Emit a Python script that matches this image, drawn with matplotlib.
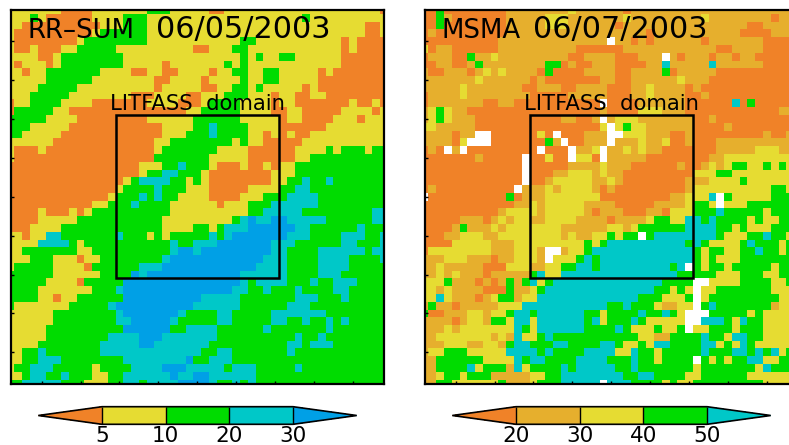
import numpy as np
import matplotlib
matplotlib.use("Agg")
import matplotlib.pyplot as plt
from matplotlib.colors import ListedColormap, BoundaryNorm
from matplotlib.patches import Rectangle

# each row: class letter + last column of that run (49 columns, top row first)
rr_rows = [
    "Y6 O10 Y17 G20 Y25 O27 Y47 O48",
    "Y2 G3 Y4 O10 Y14 G17 Y37 G38 Y48",
    "Y1 O11 Y14 G17 Y45 O47 Y48",
    "Y0 O10 Y11 G17 Y45 O47 Y48",
    "Y0 O8 Y9 G17 Y29 G31 Y42 O43 Y44 O48",
    "Y0 O2 Y3 O6 Y8 G13 Y23 O25 Y28 G30 Y42 O43 Y44 O48",
    "Y3 O5 Y6 G14 Y29 G30 Y31 G32 Y34 G36 Y42 O48",
    "Y0 O1 Y4 O5 Y6 G14 Y19 O20 Y27 G28 Y29 G30 Y42 O48",
    "Y1 O2 Y4 G11 Y15 O17 Y19 O21 Y25 O26 Y28 G30 Y32 G34 Y39 O40 Y41 O48",
    "Y4 G10 Y18 O20 Y24 O25 Y29 G30 Y32 G34 Y39 O48",
    "Y3 G8 Y18 O19 Y24 O26 Y28 G30 Y31 G32 Y37 O38 Y39 O48",
    "Y2 G7 Y15 O18 Y22 O24 Y27 G30 Y33 O34 Y36 O38 Y40 O48",
    "O0 Y2 G6 Y10 O17 Y21 O24 Y25 G29 Y33 O34 Y36 O43 Y44 O46 Y47 O48",
    "O0 G5 Y7 O22 Y24 G29 Y33 O35 Y37 O42 Y46 O47 Y48",
    "G4 Y8 O17 Y23 G29 Y34 O35 Y37 O41 Y44 O45 Y48",
    "G2 Y7 O19 Y23 G25 C26 G30 Y34 O40 Y48",
    "G1 Y6 O19 Y22 G25 C26 G30 Y32 O33 Y34 O35 Y36 O38 Y48",
    "Y5 O18 Y20 G28 Y29 G30 Y32 O37 Y48",
    "Y0 O3 Y4 O18 Y19 G26 Y30 O36 Y40 G41 Y42 G45 Y46 G48",
    "Y0 O18 G25 Y30 O36 Y38 G48",
    "O16 Y19 G21 C22 G25 Y26 O29 Y30 O32 Y33 O34 Y36 G48",
    "O16 Y17 G19 C21 G24 Y25 O33 Y36 G48",
    "O14 Y15 G16 C20 G22 Y23 G24 Y25 O33 Y35 G37 C38 G40 C41 G48",
    "O13 Y14 G18 C19 G22 Y25 O30 Y34 G36 C38 G48",
    "O12 Y13 G16 C17 G18 C19 G21 Y25 O29 Y32 G35 C39 G48",
    "O10 Y12 G15 C16 G20 Y26 O27 Y30 G33 C39 G48",
    "O3 Y4 O7 Y8 O9 Y10 G20 Y30 G32 C37 G46 C48",
    "O3 Y8 G19 Y28 G29 C30 B31 C33 B35 C40 G46 C48",
    "O2 Y6 G19 Y23 G25 Y26 G27 C30 B36 C38 G44 C45 G48",
    "Y1 O2 Y4 C6 G13 C14 G17 Y18 G19 Y20 G25 C26 G27 C28 B35 C38 G42 C45 G47 C48",
    "Y3 C7 G8 Y9 G20 C21 G23 C26 B33 C36 G42 C44 G47 C48",
    "Y1 G8 Y10 G20 C21 B23 C24 B33 C35 G39 C45 G46 C48",
    "Y2 G5 Y8 O9 Y11 G19 C20 B32 C35 G39 C43 G47 C48",
    "Y0 G5 Y9 O10 G16 C19 B31 C35 G39 C43 G48",
    "G5 Y11 G15 B16 C17 B29 C35 G39 C42 G48",
    "G4 Y8 O9 G14 B29 C30 G31 C35 G38 C39 G41 C44 G48",
    "G3 Y10 G13 C14 B28 C30 G32 C33 G36 C37 G41 C43 G48",
    "G3 Y5 O6 Y8 G14 B24 C29 G36 C39 G42 C43 G48",
    "G0 Y7 G12 C13 B23 C29 G35 C38 G48",
    "Y5 G13 C14 B21 C22 G26 C28 G33 C40 G48",
    "Y5 G13 C15 B20 C21 G26 C28 G33 C35 G37 C38 G40 C41 G42 C43 G48",
    "Y4 G14 B20 G22 C26 G32 C33 G40 C41 G48",
    "Y4 G12 C16 B19 C26 G36 C37 G39 C40 G48",
    "Y3 G11 C16 B18 C25 G35 C37 G38 C41 G48",
    "Y1 G3 C4 G11 C24 G26 C28 G35 C36 G48",
    "Y1 G3 C6 G14 C22 B23 G25 C28 G48",
    "Y0 G2 C5 G10 Y11 G15 C19 B22 C27 G28 C31 G36 C37 G48",
    "Y1 G2 C4 G6 C7 G10 Y12 G14 C20 B21 C23 B25 C31 G48",
    "G1 C6 G9 Y12 G14 C16 G17 C21 B25 C26 G28 C29 G30 C31 G48",
]

msma_rows = [
    "O1 G2 O10 A18 Y19 A25 O26 A48",
    "O1 G2 A3 O10 A15 Y18 A25 Y26 A35 Y36 A44 O45 A48",
    "O1 G2 O10 A15 Y18 A24 O25 A41 O43 A48",
    "O0 A1 O10 A28 O29 A40 O44 A48",
    "O9 A23 W24 A26 O27 A28 O29 A35 O36 A43 O47 A48",
    "Y0 O1 A3 O9 A19 O25 A37 O39 A43 O48",
    "O0 A3 O5 G6 A8 Y9 A18 O20 A24 O27 A30 W31 A32 O33 A36 O37 A39 O40 A42 O48",
    "O1 A3 O5 A6 G7 A15 G17 O18 A19 O21 A24 O28 A30 C31 A36 C37 A43 O48",
    "A0 O2 A5 O6 A7 Y8 A9 Y10 A14 O15 G16 O20 A24 O26 A30 G31 O32 A37 O48",
    "A6 Y7 A13 O14 A15 O22 A24 O26 A32 Y33 A36 O48",
    "A4 Y5 A12 O14 A17 O19 A23 O26 A28 Y29 A33 O34 A35 O48",
    "O0 A4 Y5 A13 O18 A23 O26 A28 Y29 A33 O35 A36 O48",
    "O0 A7 O9 A11 O22 W23 O27 A33 O39 C40 O41 G42 O48",
    "A0 Y1 G2 Y3 A5 O22 A23 O27 Y30 A33 O45 A47 O48",
    "A0 Y1 G2 Y3 A6 O17 A19 O21 A22 W23 A24 Y27 A34 O36 A37 O48",
    "Y1 A6 O22 Y23 W24 Y25 G26 Y28 A34 O38 A39 O48",
    "A3 O4 A6 W8 O14 Y15 O16 W17 O20 A23 W25 Y28 A31 O33 A34 O43 A44 O46 A48",
    "A3 O4 Y5 W8 O15 G16 A17 W18 O20 A23 W24 A27 Y28 A30 Y31 O33 A34 O37 A48",
    "O0 A1 O2 W3 A4 W5 O14 W15 O18 W19 A21 Y22 W23 A25 Y26 A27 Y28 A30 O37 A42 Y45 A48",
    "O6 A7 O12 W13 O15 Y16 O18 W19 Y21 O22 W23 A28 O36 A38 Y48",
    "O12 W13 O18 A22 Y23 A26 O32 A33 O35 A36 Y37 A38 Y39 G41 Y43 G44 Y45 G46 Y48",
    "O12 W13 O16 A18 Y21 A22 Y23 A25 O34 Y37 G39 Y48",
    "O12 W13 O15 A16 Y21 A23 Y24 A25 O33 A36 Y40 G41 Y48",
    "O0 A1 O11 W12 A15 Y16 A17 Y21 A22 O23 A24 O33 A34 Y44 G46 Y48",
    "W0 O10 G11 O12 A15 Y22 O31 A33 Y36 C37 W38 G39 Y44 G47 Y48",
    "O11 A13 Y14 A15 Y20 A24 O29 A33 Y34 G36 Y37 W38 Y41 G47 Y48",
    "O9 A10 Y14 A15 Y20 A21 O22 A25 O28 A30 O31 Y34 G37 C38 G43 Y44 G48",
    "O4 A7 O8 A9 Y10 A11 Y13 A15 Y19 A23 O24 A28 Y29 G31 Y33 C35 G36 C37 G41 Y42 G43 Y45 G48",
    "O3 A4 G5 A8 Y9 A10 Y17 A23 Y25 A26 Y27 G33 C37 G39 Y40 G41 Y44 G48",
    "O2 A4 Y7 A9 Y17 A18 Y19 A21 Y23 G24 Y25 G27 W28 G29 C37 G38 Y41 G43 C44 G46 Y48",
    "O3 Y8 A11 Y20 G21 Y22 G23 C33 G34 C35 G36 Y40 G41 C42 G45 Y46 G48",
    "O0 Y8 A11 Y14 A15 W17 A18 Y20 G21 C34 G35 Y36 G38 Y40 G42 C43 G45 Y46 G48",
    "A2 Y5 A8 O9 A11 Y14 A15 W16 Y19 G20 C21 G22 C34 G35 Y36 G37 Y40 G48",
    "A1 Y2 A7 O10 Y13 A15 Y17 G19 C21 G22 C31 G32 C33 W34 G35 Y36 G38 Y39 G44 Y45 G48",
    "A1 Y2 A3 Y4 A7 O8 A13 G14 C15 Y17 C32 G37 Y40 G43 Y45 G48",
    "Y2 G3 A6 O7 A8 O9 A10 G11 A12 G13 C14 Y15 G16 C30 G34 W36 Y40 G44 Y46 G48",
    "Y1 A2 Y3 A7 O10 G11 A13 Y14 G15 C29 G31 Y32 G33 Y34 W35 Y37 G44 Y48",
    "Y1 C2 Y3 A6 O7 A8 Y9 G11 A12 Y14 C27 G30 Y33 G34 W35 Y36 G45 Y48",
    "A0 G1 A3 O4 A9 Y12 C23 G25 C26 G29 Y30 A32 Y34 W35 G36 C37 G44 A45 Y48",
    "G0 O2 A5 Y7 A8 Y10 G11 C13 G14 C20 G22 Y23 G27 C28 G30 C31 G32 Y33 W36 G41 Y42 G43 Y48",
    "A3 O4 A5 Y7 A8 G10 Y11 C13 Y14 C20 G21 C22 Y23 G26 C27 G28 Y33 W35 C38 G39 Y40 C41 G43 Y48",
    "A2 Y3 A4 Y11 C12 G13 Y14 C20 G24 C25 G26 Y29 G30 Y32 G33 W34 Y36 G39 Y40 G43 Y48",
    "A1 Y8 A9 Y10 A11 C12 Y14 G15 C16 G27 Y29 A31 G35 C36 G38 Y39 C41 G43 Y48",
    "A2 Y5 A7 Y9 A10 G11 C13 G16 C18 G22 C24 G25 Y27 G28 Y29 C31 G35 C37 Y38 G39 Y40 C41 G42 Y48",
    "A0 Y2 G5 Y10 C14 G15 C16 G20 C24 Y26 C27 G29 Y30 G35 C36 G39 C41 G42 C43 G44 C45 Y46 G48",
    "A1 G7 Y11 C12 G13 C15 G19 C23 G26 C27 G29 Y30 G34 W35 G36 Y37 G38 Y39 G41 C43 Y45 G48",
    "A1 G5 C6 Y7 G10 A11 C12 Y13 G17 C18 G19 C24 G26 C27 G34 Y35 G42 Y43 C44 G48",
    "A1 Y2 G4 Y5 G8 A13 Y15 G17 C25 G27 C29 G33 Y35 G41 Y48",
    "A1 G3 Y9 G10 A13 Y14 G17 C22 W23 C26 G30 Y31 G32 Y34 G43 Y48",
]

rr_levels = [5, 10, 20, 30]
rr_classes = {"O": 2.5, "Y": 7.5, "G": 15, "C": 25, "B": 35}
rr_colors = ["#F08228", "#E6DC32", "#00DC00", "#00C8C8", "#00A0E6"]

msma_levels = [20, 30, 40, 50]
msma_classes = {"O": 15, "A": 25, "Y": 35, "G": 45, "C": 55, "W": np.nan}
msma_colors = ["#F08228", "#E6AF2D", "#E6DC32", "#00DC00", "#00C8C8"]


def decode(rows, classes):
    grid = np.zeros((len(rows), 49))
    for i, row in enumerate(rows):
        start = 0
        for run in row.split():
            end = int(run[1:]) + 1
            grid[i, start:end] = classes[run[0]]
            start = end
    return grid


W, H = 789.0, 445.0
fig = plt.figure(figsize=(W / 100, H / 100), dpi=100)
plt.rcParams["font.family"] = "DejaVu Sans"

edges = np.arange(50) - 0.5


def panel(x0, rows, classes, levels, colors, name, name_x, date, date_x):
    ax = fig.add_axes([x0 / W, 1 - 383.5 / H, 373.5 / W, 373.5 / H])
    cmap = ListedColormap(colors[1:-1])
    cmap.set_under(colors[0])
    cmap.set_over(colors[-1])
    cmap.set_bad("white")
    norm = BoundaryNorm(levels, cmap.N)
    data = np.ma.masked_invalid(decode(rows, classes))
    mesh = ax.pcolormesh(edges, edges, data, cmap=cmap, norm=norm, antialiased=False)
    ax.set_xlim(0, 48)
    ax.set_ylim(48, 0)
    ax.set_xticks(np.arange(4, 48, 5))
    ax.set_yticks(np.arange(4, 48, 5))
    ax.tick_params(direction="in", length=2.5, width=1, labelbottom=False, labelleft=False)
    for s in ax.spines.values():
        s.set_linewidth(1.6)
    ax.add_patch(Rectangle((13.5, 13.5), 21, 21, fill=False, ec="black", lw=1.8, zorder=5))
    # name and date are set apart, the date is wider in the original
    ax.text(name_x, 3.64, name, fontsize=18.7, va="baseline", ha="left", color="black", zorder=6)
    ax.text(date_x, 3.64, date, fontsize=21.8, va="baseline", ha="left", color="black", zorder=6)
    ax.text(24, 12.87, "LITFASS  domain", fontsize=15.2, va="baseline", ha="center", color="black", zorder=6)

    cax = fig.add_axes([(x0 + 27.8) / W, 1 - 424.3 / H, 318.4 / W, 17.6 / H])
    cb = fig.colorbar(mesh, cax=cax, orientation="horizontal", extend="both",
                      extendfrac=1 / 3, ticks=levels, drawedges=True, spacing="uniform")
    cb.ax.tick_params(length=0, pad=1.5, labelsize=15.5)
    cb.outline.set_linewidth(1.2)
    cb.dividers.set_linewidth(1.0)
    return ax


panel(10.5, rr_rows, rr_classes, rr_levels, rr_colors, "RR\u2013SUM", 2.15, "06/05/2003", 18.7)
panel(424.5, msma_rows, msma_classes, msma_levels, msma_colors, "MSMA", 2.15, "06/07/2003", 13.9)

fig.savefig("out.png", dpi=100)
